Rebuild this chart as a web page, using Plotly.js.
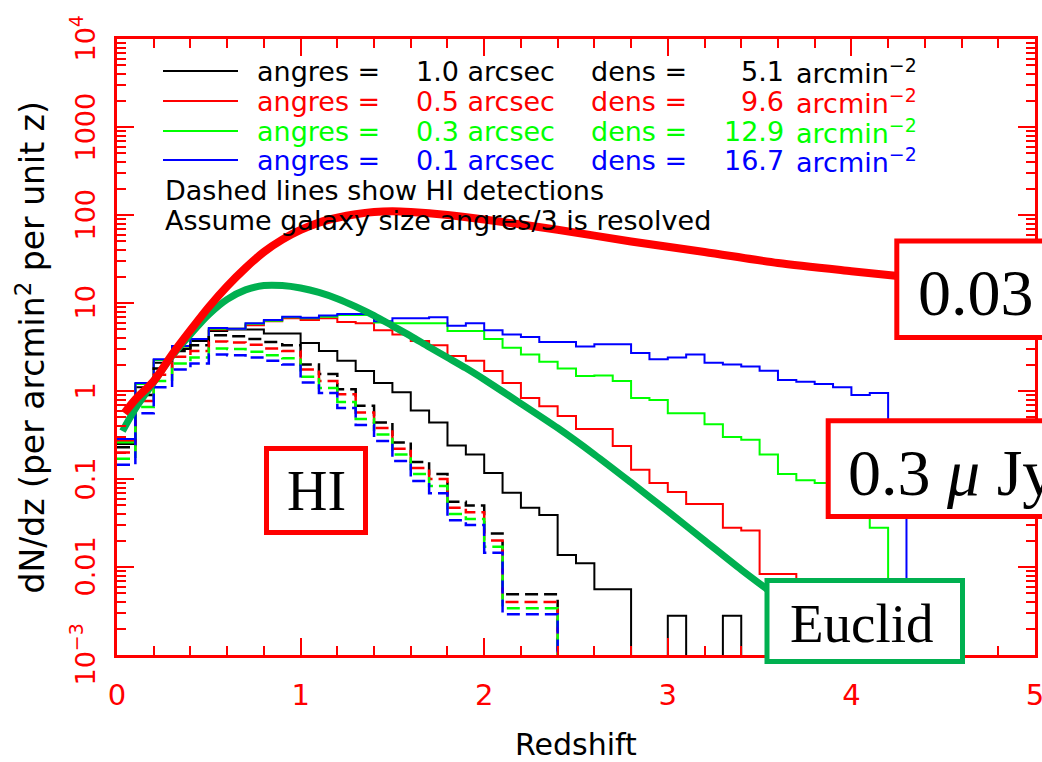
<!DOCTYPE html>
<html><head><meta charset="utf-8">
<script src="https://cdn.plot.ly/plotly-3.0.1.min.js"></script>
<style>html,body{margin:0;padding:0;background:#fff}</style>
</head><body>
<div id="chart" style="width:1042px;height:762px"></div>
<script>
// ---------- data ----------
const binEdges = [0.0,0.1,0.2,0.3,0.4,0.5,0.6,0.7,0.8,0.9,1.0,1.1,1.2,1.3,1.4,1.5,1.6,1.7,1.8,1.9,
  2.0,2.1,2.2,2.3,2.4,2.5,2.6,2.7,2.8,2.9,3.0,3.1,3.2,3.3,3.4,3.5,3.6,3.7,3.8,3.9,4.0,4.1,4.2,4.3,4.4];

// solid histograms (optical counts), one value per 0.1 bin starting at z=0
const black10 = [0.25,1.1,2.1,3.0,3.7,4.8,5.0,5.0,4.5,4.5, 3.5,2.85,2.2,1.69,1.23,0.97,0.6,0.44,0.24,0.19,
  0.117,0.07,0.047,0.039,0.0137,0.011,0.0056,0.0056,0,0, 0.0028,0,0,0.0028,0];
const red05 = [0.27,1.2,2.25,3.2,3.9,5.0,5.1,5.6,6.2,6.7, 6.4,6.7,6.1,5.9,4.9,4.4,3.7,3.3,2.5,2.2,
  1.69,1.23,0.83,0.67,0.52,0.37,0.37,0.237,0.127,0.09, 0.071,0.052,0.052,0.028,0.026,0.0083,0.0083,0.004,0];
const green03 = [0.26,1.2,2.25,3.2,3.9,5.1,5.1,5.8,6.3,6.9, 6.7,7.0,7.3,7.3,6.0,5.9,5.9,5.9,4.8,4.8,
  3.9,3.1,2.6,2.15,1.8,1.48,1.5,1.3,0.83,0.79, 0.56,0.56,0.42,0.3,0.28,0.19,0.114,0.097,0.09,0.06, 0.04,0.028,0];
const blue01 = [0.285,1.23,2.3,3.25,3.9,5.2,5.1,5.9,6.4,7.0, 6.8,7.2,7.5,7.5,6.2,6.7,6.7,6.9,5.5,5.9,
  4.9,4.4,4.1,3.6,3.6,3.2,3.4,3.4,2.7,2.3, 2.4,2.6,2.1,2.0,1.9,1.7,1.33,1.27,1.2,1.1, 0.9,0.95,0.15,0];

// dashed histograms (HI detections)
const hiBlack = [0.23,0.9,1.8,2.85,3.3,4.3,4.2,3.9,3.6,3.3, 2.0,1.56,1.05,0.68,0.44,0.26,0.156,0.114,0.055,0.05, 0.024,0.0049,0.0049,0.0049,0];
const hiRed   = [0.2,0.77,1.53,2.45,2.85,3.65,3.55,3.35,3.05,2.85, 1.75,1.3,0.92,0.57,0.38,0.22,0.133,0.1,0.047,0.042, 0.02,0.004,0.004,0.004,0];
const hiGreen = [0.17,0.66,1.3,2.05,2.4,3.05,3.0,2.8,2.55,2.35, 1.45,1.08,0.75,0.48,0.32,0.19,0.114,0.083,0.04,0.035, 0.017,0.0034,0.0034,0.0034,0];
const hiBlue  = [0.145,0.56,1.1,1.75,2.05,2.6,2.55,2.4,2.2,2.0, 1.25,0.95,0.64,0.41,0.27,0.16,0.095,0.069,0.034,0.03, 0.0145,0.0029,0.0029,0.0029,0];

// thick smooth curves
const ska003Z = [0.04,0.1,0.2,0.3,0.4,0.5,0.6,0.7,0.8,0.9,1.0,1.1,1.2,1.3,1.4,1.5,1.6,1.8,2.0,2.4,2.8,3.2,3.6,4.0,4.24];
const ska003V = [0.56,0.8,1.3,2.6,4.9,9.0,15.5,25,38,52.5,67.6,82,93,102,108,110,108,100,89,68,50,38,28.5,23,20.4];
const euclidZ = [0.03,0.1,0.2,0.3,0.4,0.5,0.6,0.7,0.8,0.9,1.0,1.1,1.2,1.3,1.4,1.5,1.6,1.7,1.8,1.9,2.0,2.2,2.4,2.6,2.8,3.0,3.2,3.4,3.54];
const euclidV = [0.35,0.63,1.26,2.5,4.4,7.4,11,14.1,15.8,15.8,14.8,13.2,11.2,9.1,7.2,5.5,4.2,3.16,2.4,1.82,1.35,0.72,0.38,0.19,0.091,0.043,0.020,0.0093,0.0056];

// legend
const angres = ['1.0','0.5','0.3','0.1'];
const dens = ['5.1','9.6','12.9','16.7'];
const rowColors = ['#000000','#ff0000','#00ff00','#0000ff'];

// axis ticks
const yTickVals = [1e-3,1e-2,0.1,1,10,100,1000,1e4];
const yTickText = ['10<sup>\u22123</sup>','0.01','0.1','1','10','100','1000','10<sup>4</sup>'];
const xTickVals = [0,1,2,3,4,5];

// ---------- drawing ----------
const FLOOR = 1e-7;
function step(vals, color, width, dash) {
  const x = [], y = [];
  for (let i = 0; i < vals.length; i++) { x.push(binEdges[i]); y.push(vals[i] > 0 ? vals[i] : FLOOR); }
  x.push(binEdges[vals.length]); y.push(vals[vals.length-1] > 0 ? vals[vals.length-1] : FLOOR);
  return {type:'scatter', mode:'lines', x:x, y:y, showlegend:false, hoverinfo:'skip',
          line:{shape:'hv', color:color, width:width, dash:dash||'solid'}};
}
const DASH = '13px,6px';
const traces = [
  step(black10,'#000000',2), step(red05,'#ff0000',2), step(green03,'#00ff00',2), step(blue01,'#0000ff',2),
  step(hiBlack,'#000000',2.5,DASH), step(hiRed,'#ff0000',2.5,DASH), step(hiGreen,'#00ff00',2.5,DASH), step(hiBlue,'#0000ff',2.5,DASH),
  {type:'scatter', mode:'lines', x:euclidZ, y:euclidV, line:{color:'#00b050', width:7, shape:'spline', smoothing:0.8}, showlegend:false, hoverinfo:'skip'},
  {type:'scatter', mode:'lines', x:ska003Z, y:ska003V, line:{color:'#ff0000', width:8, shape:'spline', smoothing:0.8}, showlegend:false, hoverinfo:'skip'}
];

const L = 117, R = 1035, T = 39, B = 655;
const px = v => (v - L) / (R - L);
const py = v => 1 - (v - T) / (B - T);

const shapes = [];
const annotations = [];

// y tick labels, rotated like the reference
for (let i = 0; i < yTickVals.length; i++) {
  annotations.push({xref:'paper', yref:'y', x:px(102), y:Math.log10(yTickVals[i]), xanchor:'right', yanchor:'middle',
    textangle:-90, showarrow:false, text:yTickText[i], font:{family:'DejaVu Sans', size:27, color:'#ff0000'}});
}

const legRows = [71, 101, 131, 160];
const legFont = c => ({family:'DejaVu Sans', size:27, color:c});
for (let i = 0; i < 4; i++) {
  const yy = py(legRows[i]);
  shapes.push({type:'line', xref:'paper', yref:'paper', x0:px(163), x1:px(238), y0:yy, y1:yy, line:{color:rowColors[i], width:2}});
  const base = {xref:'paper', yref:'paper', y:yy, yanchor:'middle', showarrow:false, font:legFont(rowColors[i])};
  annotations.push(Object.assign({}, base, {x:px(255), xanchor:'left', text:'angres ='}));
  annotations.push(Object.assign({}, base, {x:px(414), xanchor:'left', text:angres[i] + ' arcsec'}));
  annotations.push(Object.assign({}, base, {x:px(589), xanchor:'left', text:'dens ='}));
  annotations.push(Object.assign({}, base, {x:px(786), xanchor:'right', text:dens[i]}));
  annotations.push(Object.assign({}, base, {x:px(794), xanchor:'left', text:'arcmin<sup>\u22122</sup>'}));
}
annotations.push({xref:'paper', yref:'paper', x:px(163), y:py(191), xanchor:'left', yanchor:'middle', showarrow:false,
  text:'Dashed lines show HI detections', font:legFont('#000000')});
annotations.push({xref:'paper', yref:'paper', x:px(163), y:py(221), xanchor:'left', yanchor:'middle', showarrow:false,
  text:'Assume galaxy size angres/3 is resolved', font:legFont('#000000')});

// label boxes
function box(x0, y0, x1, y1, color) {
  shapes.push({type:'rect', xref:'paper', yref:'paper', layer:'above', x0:px(x0), x1:px(x1), y0:py(y1), y1:py(y0),
    fillcolor:'#ffffff', line:{color:color, width:5}});
}
box(266.5, 448.5, 365.5, 532.5, '#ff0000');
box(896.8, 241, 1120, 337.5, '#ff0000');
box(828.2, 420.8, 1120, 516.5, '#ff0000');
box(767, 580.5, 962.5, 661.5, '#00b050');
const serif = s => ({family:'Liberation Serif', size:s, color:'#000000'});
annotations.push({xref:'paper', yref:'paper', x:px(316), y:py(491), xanchor:'center', yanchor:'middle', showarrow:false, text:'HI', font:serif(56)});
annotations.push({xref:'paper', yref:'paper', x:px(916), y:py(292), xanchor:'left', yanchor:'middle', showarrow:false, text:'0.03', font:serif(66)});
annotations.push({xref:'paper', yref:'paper', x:px(846), y:py(472), xanchor:'left', yanchor:'middle', showarrow:false, text:'0.3 <i>\u03bc</i> Jy', font:serif(66)});
annotations.push({xref:'paper', yref:'paper', x:px(788), y:py(623), xanchor:'left', yanchor:'middle', showarrow:false, text:'Euclid', font:serif(55)});

const axisCommon = {
  linecolor:'#ff0000', linewidth:3, mirror:'ticks', showgrid:false, zeroline:false,
  ticks:'inside', ticklen:17, tickwidth:2, tickcolor:'#ff0000',
  tickfont:{family:'DejaVu Sans', size:29, color:'#ff0000'}
};
const layout = {
  width:1042, height:762,
  margin:{l:L, r:1042-R, t:T, b:762-B},
  paper_bgcolor:'#ffffff', plot_bgcolor:'#ffffff',
  showlegend:false,
  xaxis: Object.assign({}, axisCommon, {
    range:[0,5], tickmode:'array', tickvals:xTickVals, ticklabelstandoff:12, ticklabeloverflow:'allow',
    minor:{ticks:'inside', dtick:0.2, ticklen:9, tickwidth:2, tickcolor:'#ff0000', showgrid:false},
    title:{text:'Redshift', font:{family:'DejaVu Sans', size:30, color:'#000000'}, standoff:36}
  }),
  yaxis: Object.assign({}, axisCommon, {
    type:'log', range:[-3,4], tickmode:'array', tickvals:yTickVals, showticklabels:false,
    minor:{ticks:'inside', dtick:'D1', ticklen:9, tickwidth:2, tickcolor:'#ff0000', showgrid:false}
  }),
  shapes:shapes, annotations:annotations
};
// y-axis title, rotated, placed left of the rotated tick labels
annotations.push({xref:'paper', yref:'paper', x:px(54), y:0.5, xanchor:'right', yanchor:'middle', textangle:-90, showarrow:false,
  text:'dN/dz (per arcmin<sup>2</sup> per unit z)', font:{family:'DejaVu Sans', size:33, color:'#000000'}});
Plotly.newPlot('chart', traces, layout, {displayModeBar:false, staticPlot:true});
</script>
</body></html>
